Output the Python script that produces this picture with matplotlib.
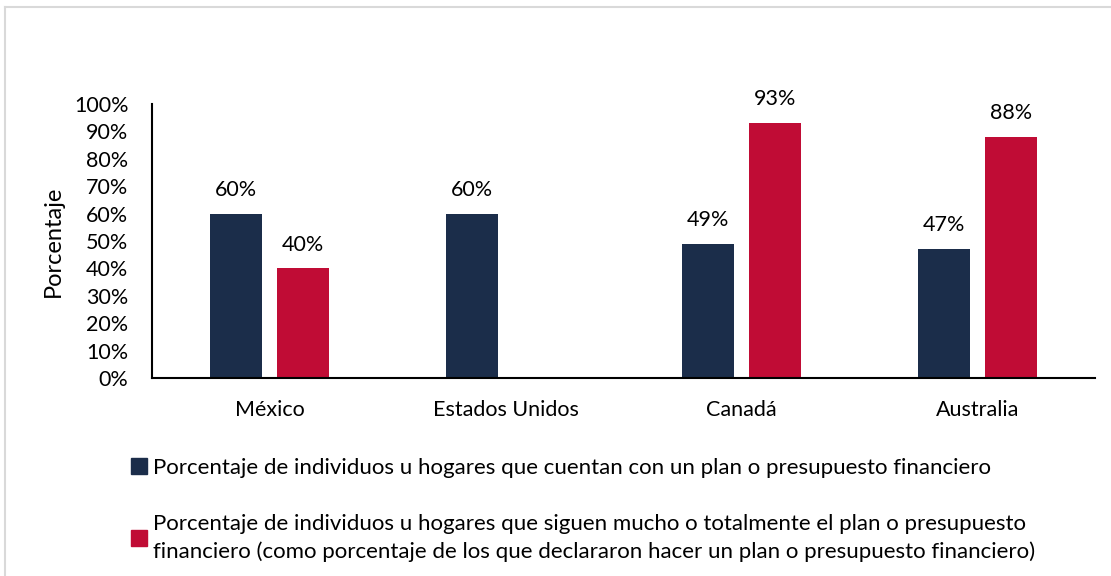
import numpy as np
import matplotlib.pyplot as plt
from matplotlib.patches import Patch
from matplotlib.lines import Line2D

plt.rcParams['font.family'] = ['Lato', 'DejaVu Sans']

# Datos
paises = ['México', 'Estados Unidos', 'Canadá', 'Australia']
con_plan = [60, 60, 49, 47]
siguen_plan = [40, np.nan, 93, 88]
etiquetas = [
    'Porcentaje de individuos u hogares que cuentan con un plan o presupuesto financiero',
    'Porcentaje de individuos u hogares que siguen mucho o totalmente el plan o presupuesto\n'
    'financiero (como porcentaje de los que declararon hacer un plan o presupuesto financiero)',
]
c_azul = '#1b2d4a'
c_rojo = '#c00c35'
fs = 15.5

W, H = 1111, 576
fig = plt.figure(figsize=(W / 100, H / 100), dpi=100)
ax = fig.add_axes([152 / W, 1 - 378 / H, (1095 - 152) / W, (378 - 104) / H])

x = np.arange(len(paises))
w = 0.22
off = 0.142
b1 = ax.bar(x - off, con_plan, w, color=c_azul)
b2 = ax.bar(x + off, siguen_plan, w, color=c_rojo)

for bars, vals in ((b1, con_plan), (b2, siguen_plan)):
    for b, v in zip(bars, vals):
        if np.isnan(v):
            continue
        ax.annotate(f'{v:.0f}%', (b.get_x() + b.get_width() / 2, v),
                    xytext=(0, 10), textcoords='offset points',
                    ha='center', va='bottom', fontsize=fs)

ax.set_xlim(-0.5, len(paises) - 0.5)
ax.set_ylim(0, 100)
ax.set_yticks(np.arange(0, 101, 10))
ax.set_yticklabels([f'{t}%' for t in range(0, 101, 10)])
ax.set_xticks(x)
ax.set_xticklabels(paises)
ax.tick_params(axis='y', length=0, pad=17, labelsize=fs)
ax.tick_params(axis='x', length=0, pad=16, labelsize=fs)
for s in ('top', 'right'):
    ax.spines[s].set_visible(False)
ax.spines['left'].set_linewidth(1.5)
ax.spines['bottom'].set_linewidth(1.5)
ax.set_ylabel('Porcentaje', fontsize=17, labelpad=7)

handles = [Patch(color=c_azul), Patch(color=c_rojo)]
leg = fig.legend(handles, etiquetas, loc='upper left', bbox_to_anchor=(111 / W, 1 - 438 / H),
                 frameon=False, fontsize=16, handlelength=0.7, handleheight=0.7,
                 handletextpad=0.3, labelspacing=1.62)
for t in leg.get_texts():
    t.set_linespacing(1.45)

# marco exterior gris
fig.add_artist(Line2D([5 / W, 1], [1 - 7 / H, 1 - 7 / H], color='#d9d9d9', lw=1.5))
fig.add_artist(Line2D([5 / W, 5 / W], [0, 1 - 7 / H], color='#d9d9d9', lw=1.5))

fig.savefig('out.png', dpi=100)
